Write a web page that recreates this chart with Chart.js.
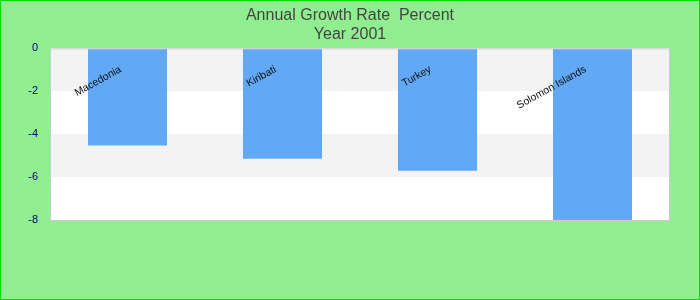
<!DOCTYPE html>
<html>
<head>
<meta charset="UTF-8">
<script src="https://cdn.jsdelivr.net/npm/chart.js"></script>
<style>
  body { margin: 0; background: #90ee90; }
  #wrap { width: 700px; height: 300px; }
</style>
</head>
<body>
<div id="wrap"><canvas id="grafico"></canvas></div>
<script>
const paises = ['Macedonia', 'Kiribati', 'Turkey', 'Solomon Islands'];
const taxas = [-4.53, -5.14, -5.70, -8.0];
const titulo = ['Annual Growth Rate  Percent', 'Year 2001'];

// fundo, faixas alternadas e bordas
const fundo = {
  id: 'fundo',
  beforeDraw(chart) {
    const ctx = chart.ctx, a = chart.chartArea, y = chart.scales.y;
    ctx.save();
    ctx.fillStyle = '#90ee90';
    ctx.fillRect(0, 0, chart.width, chart.height);
    for (let v = 0; v > -8; v -= 2) {
      const t = Math.round(y.getPixelForValue(v)), b = Math.round(y.getPixelForValue(v - 2));
      ctx.fillStyle = (v / 2) % 2 === 0 ? '#f3f3f3' : '#ffffff';
      ctx.fillRect(a.left, t, a.right - a.left, b - t);
    }
    ctx.restore();
  },
  afterDraw(chart) {
    const ctx = chart.ctx, a = chart.chartArea, x = chart.scales.x, y = chart.scales.y;
    ctx.save();
    ctx.strokeStyle = '#cccccc';
    ctx.lineWidth = 1;
    ctx.strokeRect(a.left + 0.5, a.top + 0.5, a.right - a.left - 1, a.bottom - a.top);
    ctx.strokeStyle = '#00dd00';
    ctx.strokeRect(0.5, 0.5, chart.width - 1, chart.height - 1);
    // nomes dos paises inclinados
    ctx.fillStyle = '#111';
    ctx.font = '10.5px "Liberation Sans", Arial, sans-serif';
    ctx.textAlign = 'right';
    ctx.textBaseline = 'middle';
    paises.forEach((p, i) => {
      ctx.save();
      ctx.translate(x.getPixelForValue(i) - 7, y.getPixelForValue(-0.95));
      ctx.rotate(-29 * Math.PI / 180);
      ctx.fillText(p, 0, 0);
      ctx.restore();
    });
    ctx.restore();
  }
};

new Chart(document.getElementById('grafico'), {
  type: 'bar',
  data: {
    labels: paises,
    datasets: [{
      data: taxas,
      backgroundColor: '#61a9f4',
      borderWidth: 0,
      barPercentage: 0.51,
      categoryPercentage: 1
    }]
  },
  options: {
    responsive: true,
    maintainAspectRatio: false,
    animation: false,
    layout: { padding: 0 },
    plugins: {
      legend: { display: false },
      tooltip: { enabled: false },
      title: {
        display: true,
        text: titulo,
        color: '#444444',
        font: { family: '"Liberation Sans", Arial, sans-serif', size: 16, weight: 'normal', lineHeight: 1.2 },
        padding: { top: 6, bottom: 4 }
      }
    },
    scales: {
      x: {
        grid: { display: false },
        border: { display: false },
        ticks: { display: false },
        afterFit(s) { s.height = 80; }
      },
      y: {
        min: -8,
        max: 0,
        grid: { display: false },
        border: { display: false },
        ticks: {
          stepSize: 2,
          color: '#000080',
          padding: 4,
          font: { family: '"Liberation Sans", Arial, sans-serif', size: 11 }
        },
        afterFit(s) { s.width = 50; }
      },
      direita: {
        position: 'right',
        grid: { display: false },
        border: { display: false },
        ticks: { display: false },
        afterFit(s) { s.width = 30; }
      }
    }
  },
  plugins: [fundo]
});
</script>
</body>
</html>
